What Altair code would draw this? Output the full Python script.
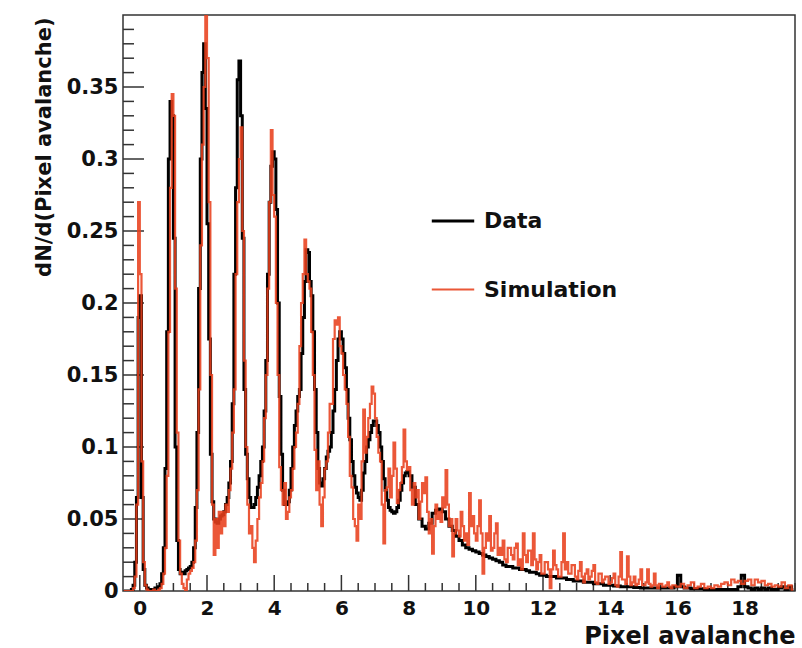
import altair as alt
import numpy as np
import pandas as pd

# ---------------- data ----------------
SERIES = ["Data", "Simulation"]
COLORS = ["#000000", "#E8401C"]

# Data: bins of width 0.05 from -0.5 to 8.0 (170 bins), one row per unit interval
DATA_FINE = (
    [0, 0, 0, 0, 0, 0.001, 0.004, 0.02, 0.065, 0.19, 0.205, 0.065, 0.015, 0.004, 0.002, 0.001, 0.001, 0.001, 0.001, 0.002]
    + [0.002, 0.003, 0.005, 0.012, 0.03, 0.085, 0.18, 0.30, 0.34, 0.33, 0.245, 0.10, 0.035, 0.015, 0.012, 0.013, 0.012, 0.014, 0.015, 0.016]
    + [0.017, 0.02, 0.03, 0.058, 0.11, 0.21, 0.30, 0.36, 0.38, 0.335, 0.255, 0.175, 0.095, 0.062, 0.05, 0.048, 0.047, 0.05, 0.052, 0.053]
    + [0.055, 0.06, 0.065, 0.075, 0.09, 0.13, 0.22, 0.28, 0.355, 0.368, 0.33, 0.245, 0.14, 0.095, 0.078, 0.065, 0.058, 0.058, 0.06, 0.065]
    + [0.072, 0.08, 0.09, 0.10, 0.125, 0.16, 0.22, 0.27, 0.295, 0.305, 0.30, 0.265, 0.20, 0.135, 0.095, 0.07, 0.06, 0.06, 0.062, 0.07]
    + [0.085, 0.10, 0.115, 0.125, 0.135, 0.14, 0.165, 0.19, 0.215, 0.237, 0.235, 0.215, 0.205, 0.18, 0.14, 0.11, 0.085, 0.075, 0.073, 0.078]
    + [0.085, 0.093, 0.097, 0.10, 0.11, 0.125, 0.14, 0.16, 0.175, 0.18, 0.175, 0.165, 0.155, 0.14, 0.12, 0.105, 0.09, 0.08, 0.072, 0.068]
    + [0.065, 0.063, 0.07, 0.082, 0.09, 0.10, 0.105, 0.11, 0.115, 0.118, 0.118, 0.115, 0.11, 0.10, 0.09, 0.078, 0.07, 0.063, 0.058, 0.056]
    + [0.055, 0.054, 0.055, 0.058, 0.063, 0.07, 0.075, 0.08, 0.082, 0.083]
)
# Data: bins of width 0.1 from 8.0 to 19.5 (115 bins)
DATA_COARSE = (
    [0.08, 0.072, 0.06, 0.05, 0.045, 0.043, 0.047, 0.054, 0.056, 0.057]
    + [0.055, 0.05, 0.045, 0.042, 0.038, 0.035, 0.032, 0.03, 0.029, 0.028]
    + [0.027, 0.026, 0.025, 0.024, 0.023, 0.022, 0.021, 0.02, 0.018, 0.017]
    + [0.017, 0.016, 0.016, 0.015, 0.015, 0.014, 0.013, 0.013, 0.012, 0.011]
    + [0.011, 0.01, 0.01, 0.01, 0.009, 0.009, 0.009, 0.008, 0.008, 0.007]
    + [0.007, 0.007, 0.006, 0.006, 0.006, 0.005, 0.005, 0.005, 0.004, 0.004]
    + [0.004, 0.0035, 0.0035, 0.003, 0.003, 0.003, 0.003, 0.0025, 0.0025, 0.002]
    + [0.002, 0.002, 0.002, 0.002, 0.002, 0.002, 0.002, 0.002, 0.002, 0.003]
    + [0.011, 0.003, 0.002, 0.002, 0.0015, 0.0015, 0.0015, 0.0015, 0.001, 0.001]
    + [0.001, 0.001, 0.001, 0.001, 0.001, 0.001, 0.001, 0.001, 0.003, 0.011]
    + [0.003, 0.002, 0.001, 0.002, 0.001, 0.002, 0.001, 0.002, 0.001, 0.001]
    + [0.002, 0.003, 0.001, 0.003, 0.001]
)

# Simulation: bins of width 0.05 from -0.5 to 16.0 (330 bins)
SIM_FINE = (
    [0, 0, 0, 0, 0, 0, 0.002, 0.01, 0.06, 0.27, 0.22, 0.09, 0.02, 0.004, 0.001, 0, 0, 0, 0.001, 0]
    + [0, 0.001, 0.002, 0.005, 0.012, 0.03, 0.08, 0.18, 0.28, 0.345, 0.33, 0.21, 0.11, 0.035, 0.012, 0.005, 0.002, 0, 0.008, 0.012]
    + [0.014, 0.016, 0.02, 0.035, 0.07, 0.14, 0.24, 0.31, 0.35, 0.40, 0.37, 0.27, 0.15, 0.06, 0.025, 0.05, 0.03, 0.055, 0.04, 0.055]
    + [0.045, 0.06, 0.055, 0.07, 0.085, 0.11, 0.14, 0.22, 0.27, 0.30, 0.322, 0.25, 0.16, 0.10, 0.06, 0.04, 0.045, 0.03, 0.02, 0.035]
    + [0.05, 0.065, 0.075, 0.09, 0.12, 0.15, 0.21, 0.27, 0.32, 0.275, 0.26, 0.20, 0.15, 0.086, 0.07, 0.06, 0.075, 0.05, 0.055, 0.065]
    + [0.07, 0.085, 0.10, 0.11, 0.13, 0.17, 0.20, 0.22, 0.244, 0.22, 0.215, 0.21, 0.18, 0.15, 0.098, 0.07, 0.09, 0.06, 0.045, 0.065]
    + [0.085, 0.09, 0.11, 0.13, 0.13, 0.175, 0.188, 0.185, 0.19, 0.17, 0.165, 0.15, 0.14, 0.13, 0.107, 0.08, 0.072, 0.05, 0.045, 0.035]
    + [0.06, 0.05, 0.09, 0.126, 0.096, 0.107, 0.12, 0.13, 0.142, 0.137, 0.12, 0.107, 0.096, 0.09, 0.06, 0.033, 0.07, 0.072, 0.085, 0.065]
    + [0.08, 0.103, 0.085, 0.061, 0.07, 0.075, 0.086, 0.112, 0.09, 0.084]
    + [0.086, 0.07, 0.06, 0.075, 0.065, 0.07, 0.05, 0.062, 0.075, 0.068, 0.079, 0.055, 0.04, 0.05, 0.026, 0.045, 0.06, 0.05, 0.055, 0.048]
    + [0.065, 0.058, 0.084, 0.06, 0.045, 0.05, 0.024, 0.04, 0.05, 0.042, 0.038, 0.055, 0.045, 0.035, 0.04, 0.032, 0.068, 0.045, 0.052, 0.04]
    + [0.035, 0.045, 0.063, 0.04, 0.012, 0.03, 0.04, 0.035, 0.052, 0.028, 0.03, 0.04, 0.047, 0.025, 0.03, 0.025, 0.035, 0.022, 0.02, 0.03]
    + [0.03, 0.025, 0.022, 0.03, 0.033, 0.018, 0.022, 0.015, 0.04, 0.025, 0.02, 0.028, 0.028, 0.018, 0.04, 0.022, 0.015, 0.02, 0.025, 0.012]
    + [0.012, 0.02, 0.02, 0.015, 0.002, 0.015, 0.028, 0.018, 0.015, 0.01, 0.01, 0.02, 0.04, 0.015, 0.02, 0.012, 0.012, 0.018, 0.018, 0.01]
    + [0.008, 0.014, 0.02, 0.01, 0.006, 0.012, 0.015, 0.008, 0.01, 0.014, 0.018, 0.006, 0.005, 0.012, 0.012, 0.006, 0.008, 0.01, 0.01, 0.005]
    + [0.006, 0.009, 0.012, 0.004, 0.003, 0.01, 0.027, 0.008, 0.008, 0.005, 0.024, 0.01, 0.004, 0.006, 0.01, 0.004, 0.005, 0.008, 0.015, 0.004]
    + [0.004, 0.006, 0.015, 0.005, 0.003, 0.004, 0.012, 0.004, 0.002, 0.005, 0.005, 0.003, 0.003, 0.004, 0.006, 0.003, 0.002, 0.004, 0.004, 0.003]
)
# Simulation: bins of width 0.1 from 16.0 to 19.5 (35 bins)
SIM_COARSE = (
    [0.003, 0.005, 0.002, 0.004, 0.006, 0.002, 0.003, 0.005, 0.002, 0.003]
    + [0.002, 0.004, 0.003, 0.005, 0.006, 0.004, 0.008, 0.006, 0.007, 0.005]
    + [0.007, 0.008, 0.004, 0.008, 0.006, 0.007, 0.004, 0.005, 0.003, 0.004]
    + [0.003, 0.006, 0.002, 0.004, 0.001]
)

X_LABELS = [0, 2, 4, 6, 8, 10, 12, 14, 16, 18]
X_MINOR = [0.5, 1, 1.5, 2.5, 3, 3.5, 4.5, 5, 5.5, 6.5, 7, 7.5, 8.5, 9, 9.5, 10.5, 11, 11.5,
           12.5, 13, 13.5, 14.5, 15, 15.5, 16.5, 17, 17.5, 18.5, 19, 19.5]
Y_LABELS = [0, 0.05, 0.1, 0.15, 0.2, 0.25, 0.3, 0.35]
Y_MINOR = [0.01, 0.02, 0.03, 0.04, 0.06, 0.07, 0.08, 0.09, 0.11, 0.12, 0.13, 0.14,
           0.16, 0.17, 0.18, 0.19, 0.21, 0.22, 0.23, 0.24, 0.26, 0.27, 0.28, 0.29,
           0.31, 0.32, 0.33, 0.34, 0.36, 0.37, 0.38, 0.39]


# ---------------- build table ----------------
def centers(start, width, n):
    return [float(v) for v in np.round(start + width / 2 + width * np.arange(n), 4)]


rows = []
data_x = centers(-0.5, 0.05, len(DATA_FINE)) + centers(8.0, 0.1, len(DATA_COARSE))
sim_x = centers(-0.5, 0.05, len(SIM_FINE)) + centers(16.0, 0.1, len(SIM_COARSE))
for xv, yv in zip(data_x, DATA_FINE + DATA_COARSE):
    rows.append({"x": xv, "y": yv, "series": "Data"})
for xv, yv in zip(sim_x, SIM_FINE + SIM_COARSE):
    rows.append({"x": xv, "y": yv, "series": "Simulation"})
df = pd.DataFrame(rows)

ticks_rows = ([{"x": v, "kind": "xmaj"} for v in X_LABELS]
              + [{"x": v, "kind": "xmin"} for v in X_MINOR])
yticks_rows = ([{"y": v, "kind": "ymaj"} for v in Y_LABELS[1:]]
               + [{"y": v, "kind": "ymin"} for v in Y_MINOR])

W, H = 672, 576
FONT = "DejaVu Sans"
TXT = "#111111"

xscale = alt.Scale(domain=[-0.5, 19.5], nice=False, zero=False)
yscale = alt.Scale(domain=[0, 0.4], nice=False, zero=False)

x_axis = alt.Axis(
    values=X_LABELS, format="d", ticks=False, domain=False, grid=False,
    labelFont=FONT, labelFontWeight="bold", labelFontSize=20, labelColor=TXT,
    labelPadding=7, labelFlush=False, labelOverlap=False,
    title="Pixel avalanche", titleFont=FONT, titleFontWeight="bold", titleFontSize=24,
    titleColor=TXT, titleAlign="right", titleBaseline="alphabetic", titleX=W, titleY=52)
y_axis = alt.Axis(
    values=Y_LABELS, format="~g", ticks=False, domain=False, grid=False,
    labelFont=FONT, labelFontWeight="bold", labelFontSize=21, labelColor=TXT,
    labelPadding=5, labelFlush=False, labelOverlap=False,
    title="dN/d(Pixel avalanche)", titleFont=FONT, titleFontWeight="bold", titleFontSize=21,
    titleColor=TXT, titleAngle=270, titleAlign="right", titleBaseline="alphabetic",
    titleX=-73, titleY=2)

TICK = "#333333"
x_major = alt.Chart(pd.DataFrame(ticks_rows)).transform_filter("datum.kind == 'xmaj'").mark_rule(
    color=TICK, strokeWidth=1.5).encode(
    x=alt.X("x:Q", scale=xscale, axis=x_axis), y=alt.value(H), y2=alt.value(H - 16))
x_minor = alt.Chart(pd.DataFrame(ticks_rows)).transform_filter("datum.kind == 'xmin'").mark_rule(
    color=TICK, strokeWidth=1.5).encode(
    x=alt.X("x:Q", scale=xscale, axis=x_axis), y=alt.value(H), y2=alt.value(H - 8))
y_major = alt.Chart(pd.DataFrame(yticks_rows)).transform_filter("datum.kind == 'ymaj'").mark_rule(
    color=TICK, strokeWidth=1.5).encode(
    y=alt.Y("y:Q", scale=yscale, axis=y_axis), x=alt.value(0), x2=alt.value(21))
y_minor = alt.Chart(pd.DataFrame(yticks_rows)).transform_filter("datum.kind == 'ymin'").mark_rule(
    color=TICK, strokeWidth=1.5).encode(
    y=alt.Y("y:Q", scale=yscale, axis=y_axis), x=alt.value(0), x2=alt.value(11))

lines = alt.Chart(df).mark_line(interpolate="step", clip=True).encode(
    x=alt.X("x:Q", scale=xscale, axis=x_axis),
    y=alt.Y("y:Q", scale=yscale, axis=y_axis),
    color=alt.Color("series:N", scale=alt.Scale(domain=SERIES, range=COLORS), legend=alt.Legend(
        title=None, orient="none", legendX=307, legendY=183, symbolType="stroke",
        symbolSize=1800, symbolStrokeWidth=2.5, labelFont=FONT, labelFontWeight="bold",
        labelFontSize=22, labelColor=TXT, labelOffset=8, rowPadding=35, padding=0)),
    strokeWidth=alt.StrokeWidth("series:N", scale=alt.Scale(domain=SERIES, range=[3.0, 2.2]), legend=None),
    opacity=alt.Opacity("series:N", scale=alt.Scale(domain=SERIES, range=[1.0, 0.88]), legend=None),
)

chart = alt.layer(x_major, x_minor, y_major, y_minor, lines).properties(
    width=W, height=H,
    padding={"left": 123, "top": 15, "right": 7, "bottom": 57},
    autosize=alt.AutoSizeParams(type="none"),
    background="white",
).configure_view(stroke="#333333", strokeWidth=1.5)

chart.save("out.html", embed_options={"renderer": "svg", "actions": False})
